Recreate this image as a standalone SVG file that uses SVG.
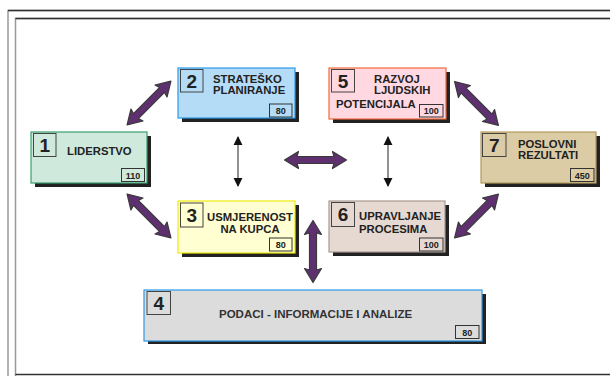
<svg xmlns="http://www.w3.org/2000/svg" width="610" height="376" viewBox="0 0 610 376">
<style>
.sh{fill:#222}
.num{fill:none;stroke:#444;stroke-width:1}
.sc{fill:none;stroke:#333;stroke-width:1}
.nt{font-family:"Liberation Sans",Arial,sans-serif;font-weight:bold;font-size:19px;fill:#222}
.lb{font-family:"Liberation Sans",Arial,sans-serif;font-weight:bold;font-size:11.3px;fill:#222}
.st{font-family:"Liberation Sans",Arial,sans-serif;font-weight:bold;font-size:9px;fill:#222}
.big{fill:#5e306f;stroke:#3a3a3a;stroke-width:1.2;stroke-linejoin:round}
.thin{stroke:#222;stroke-width:1;fill:none;marker-start:url(#ah);marker-end:url(#ah)}
</style>
<defs>
<path id="dbl" d="M-31,0 L-17,-8.5 L-18.5,-3.5 L18.5,-3.5 L17,-8.5 L31,0 L17,8.5 L18.5,3.5 L-18.5,3.5 L-17,8.5 Z"/>
<marker id="ah" viewBox="0 0 10 10" refX="9" refY="5" markerWidth="9" markerHeight="10" markerUnits="userSpaceOnUse" orient="auto-start-reverse">
<path d="M0,0 L10,5 L0,10 Z" fill="#111"/>
</marker>
</defs>
<rect width="610" height="376" fill="#fff"/>
<g id="frame" fill="none">
<path d="M8,380 L8,10.5 L615,10.5" stroke="#999" stroke-width="1.5"/>
<path d="M8,10.5 L615,10.5" stroke="#333" stroke-width="1.5"/>
<path d="M15.5,380 L15.5,18.5 L615,18.5" stroke="#999" stroke-width="1.5"/>
<path d="M15.5,18.5 L615,18.5" stroke="#333" stroke-width="1.5"/>
<path d="M15.5,374.5 L615,374.5" stroke="#333" stroke-width="1.5"/>
</g>
<g id="connectors">
<use href="#dbl" class="big" transform="translate(149,103) rotate(-45)"/>
<use href="#dbl" class="big" transform="translate(476.5,103.5) rotate(45)"/>
<use href="#dbl" class="big" transform="translate(149,216) rotate(45)"/>
<use href="#dbl" class="big" transform="translate(476.5,216) rotate(-45)"/>
<use href="#dbl" class="big" transform="translate(315.5,160)"/>
<use href="#dbl" class="big" transform="translate(313,251.5) rotate(90)"/>
<line class="thin" x1="238" y1="137" x2="238" y2="186"/>
<line class="thin" x1="388" y1="137" x2="388" y2="186"/>
</g>
<g id="node1">
<rect class="sh" x="35" y="136" width="116" height="51"/>
<rect x="31" y="132" width="116" height="51" fill="#cfe9dd" stroke="#3a9f6e" stroke-width="1.2"/>
<rect class="num" x="33.5" y="133.5" width="22.5" height="23"/>
<text class="nt" x="44.8" y="152" text-anchor="middle">1</text>
<text class="lb" x="67" y="155">LIDERSTVO</text>
<rect class="sc" x="121.5" y="168.5" width="23" height="13"/>
<text class="st" x="133" y="178.5" text-anchor="middle">110</text>
</g>
<g id="node2">
<rect class="sh" x="182" y="72" width="117" height="50"/>
<rect x="178" y="68" width="117" height="50" fill="#b5dcf7" stroke="#2a9ae8" stroke-width="1.2"/>
<rect class="num" x="180.5" y="69.5" width="22.5" height="22.5"/>
<text class="nt" x="191.8" y="88" text-anchor="middle">2</text>
<text class="lb" x="213" y="83">STRATEŠKO</text>
<text class="lb" x="213" y="94">PLANIRANJE</text>
<rect class="sc" x="269.5" y="104" width="22.5" height="13"/>
<text class="st" x="280.8" y="114" text-anchor="middle">80</text>
</g>
<g id="node3">
<rect class="sh" x="182" y="205" width="117" height="52"/>
<rect x="178" y="201" width="117" height="52" fill="#ffffd2" stroke="#eeea10" stroke-width="1.2"/>
<rect class="num" x="180.5" y="203" width="22.5" height="24"/>
<text class="nt" x="191.8" y="222" text-anchor="middle">3</text>
<text class="lb" x="250" y="221" text-anchor="middle">USMJERENOST</text>
<text class="lb" x="250" y="233" text-anchor="middle">NA KUPCA</text>
<rect class="sc" x="269.5" y="238" width="22.5" height="13"/>
<text class="st" x="280.8" y="248" text-anchor="middle">80</text>
</g>
<g id="node4">
<rect class="sh" x="148" y="294" width="338" height="50"/>
<rect x="144" y="290" width="338" height="51" fill="#dcdcdc" stroke="#2a9ae8" stroke-width="1.2"/>
<rect class="num" x="147" y="291.5" width="23.5" height="23"/>
<text class="nt" x="158.8" y="310" text-anchor="middle">4</text>
<text class="lb" x="219" y="318" style="font-size:11.5px;fill:#333">PODACI - INFORMACIJE I ANALIZE</text>
<rect class="sc" x="455.5" y="325.5" width="23.5" height="13"/>
<text class="st" x="467.2" y="335.5" text-anchor="middle">80</text>
</g>
<g id="node5">
<rect class="sh" x="333" y="72" width="117" height="51"/>
<rect x="329" y="68" width="117" height="51" fill="#ffd8e2" stroke="#f06a3a" stroke-width="1.2"/>
<rect class="num" x="331.5" y="69.5" width="23" height="22.5"/>
<text class="nt" x="343" y="88" text-anchor="middle">5</text>
<text class="lb" x="374" y="83">RAZVOJ</text>
<text class="lb" x="374" y="94">LJUDSKIH</text>
<text class="lb" x="336" y="108">POTENCIJALA</text>
<rect class="sc" x="419.5" y="104.5" width="23.5" height="12.5"/>
<text class="st" x="431.2" y="114" text-anchor="middle">100</text>
</g>
<g id="node6">
<rect class="sh" x="333" y="205" width="116" height="51"/>
<rect x="329" y="201" width="116" height="51" fill="#e6d9d1" stroke="#a89a92" stroke-width="1.2"/>
<rect class="num" x="331.5" y="202.5" width="23" height="24"/>
<text class="nt" x="343" y="221" text-anchor="middle">6</text>
<text class="lb" x="359" y="220">UPRAVLJANJE</text>
<text class="lb" x="359" y="233">PROCESIMA</text>
<rect class="sc" x="419.5" y="238" width="23.5" height="13"/>
<text class="st" x="431.2" y="248" text-anchor="middle">100</text>
</g>
<g id="node7">
<rect class="sh" x="485" y="136" width="115" height="51"/>
<rect x="481" y="132" width="115" height="51" fill="#dccca6" stroke="#b39a5e" stroke-width="1.2"/>
<rect class="num" x="482.5" y="133.5" width="23.5" height="23"/>
<text class="nt" x="494.2" y="152" text-anchor="middle">7</text>
<text class="lb" x="518" y="148">POSLOVNI</text>
<text class="lb" x="518" y="159">REZULTATI</text>
<rect class="sc" x="570.5" y="168.5" width="23.5" height="13"/>
<text class="st" x="582.2" y="178.5" text-anchor="middle">450</text>
</g>
</svg>
